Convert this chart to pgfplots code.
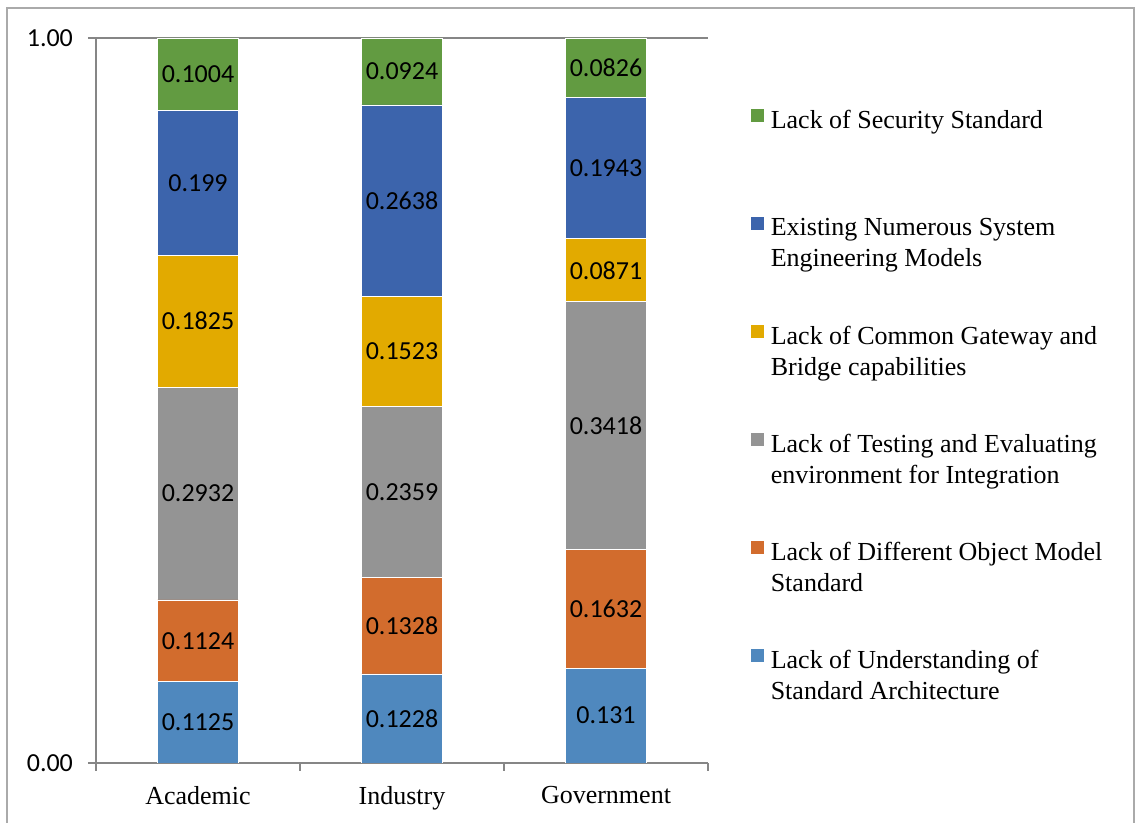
\documentclass[border=0pt]{standalone}
\usepackage{pgfplots}
\pgfplotsset{compat=1.18}
\usepackage{pgfplotstable}
\usepackage{fontspec}
\setmainfont{Liberation Serif}
\newfontfamily\calibri{Carlito}

\definecolor{cUnd}{RGB}{79,136,190}
\definecolor{cObj}{RGB}{210,108,45}
\definecolor{cTest}{RGB}{148,148,148}
\definecolor{cGate}{RGB}{226,170,0}
\definecolor{cSys}{RGB}{60,100,172}
\definecolor{cSec}{RGB}{98,155,65}
\definecolor{axgray}{RGB}{134,134,134}
\definecolor{framegray}{RGB}{170,170,170}

% shares per group (bottom to top)
\pgfplotstableread{
x und obj test gate sys sec
0 0.1125 0.1124 0.2932 0.1825 0.199  0.1004
1 0.1228 0.1328 0.2359 0.1523 0.2638 0.0924
2 0.131  0.1632 0.3418 0.0871 0.1943 0.0826
}\shares

% label positions: middle of each segment
\pgfplotstableread{
x y lab
0 0.05625 0.1125
0 0.1687  0.1124
0 0.3715  0.2932
0 0.60935 0.1825
0 0.8001  0.199
0 0.9498  0.1004
1 0.0614  0.1228
1 0.1892  0.1328
1 0.37355 0.2359
1 0.56765 0.1523
1 0.7757  0.2638
1 0.9538  0.0924
2 0.0655  0.131
2 0.2126  0.1632
2 0.4651  0.3418
2 0.67955 0.0871
2 0.82025 0.1943
2 0.9587  0.0826
}\labels

\pgfplotsset{
  sq/.style={fill=#1, draw=white, line width=0.4pt,
    legend image code/.code={%
      \path (0pt,-40.6pt) -- (0pt,13pt);
      \fill[##1, draw=none] (0pt,1pt) rectangle (6.5pt,7.5pt);}},
  frame/.style={at={(0pt,0pt)}, anchor=south west, scale only axis,
    width=306pt, height=362.5pt, xmin=-0.5, xmax=2.5, ymin=0, ymax=1},
}
\newcommand{\entry}[1]{\raisebox{3.5pt}{\parbox[t]{190pt}{#1}}}

\begin{document}
\begin{tikzpicture}
\path[use as bounding box] (-48pt,-30pt) rectangle (520pt,381.5pt);
\draw[framegray, line width=1pt] (-44.5pt,-32pt) -- (-44.5pt,377.5pt) -- (519pt,377.5pt) -- (519pt,-32pt);

\begin{axis}[frame,
  ybar stacked, bar width=40.5pt,
  axis x line*=bottom, axis y line*=left,
  axis line style={axgray, line width=0.8pt},
  xtick={0,1,2}, xticklabels={Academic,Industry,Government},
  minor xtick={-0.5,0.5,1.5,2.5},
  major x tick style={draw=none},
  minor x tick style={axgray, line width=0.8pt},
  minor tick length=4pt,
  ytick={0,1},
  y tick style={axgray, line width=0.8pt},
  major tick length=4pt,
  tick align=outside,
  ymajorgrids, major grid style={axgray, line width=0.8pt},
  /pgf/number format/assume math mode=true,
  yticklabel style={font=\calibri\fontsize{13}{15}\selectfont, xshift=-4pt,
    /pgf/number format/.cd, fixed, fixed zerofill, precision=2, /tikz/.cd},
  xticklabel style={font=\fontsize{13}{15}\selectfont, yshift=-4pt},
  reverse legend,
  legend cell align=left,
  legend style={draw=none, fill=none, inner sep=0pt, at={(1.0686,0.9179)}, anchor=north west,
    nodes={inner sep=0pt}, column sep=3.5pt, row sep=0pt,
    font=\fontsize{13}{15.5}\selectfont},
]
\addplot[sq=cUnd]  table[x=x, y=und]  {\shares};
\addlegendentry{\entry{Lack of Understanding of\\Standard Architecture}}
\addplot[sq=cObj]  table[x=x, y=obj]  {\shares};
\addlegendentry{\entry{Lack of Different Object Model\\Standard}}
\addplot[sq=cTest] table[x=x, y=test] {\shares};
\addlegendentry{\entry{Lack of Testing and Evaluating\\environment for Integration}}
\addplot[sq=cGate] table[x=x, y=gate] {\shares};
\addlegendentry{\entry{Lack of Common Gateway and\\Bridge capabilities}}
\addplot[sq=cSys]  table[x=x, y=sys]  {\shares};
\addlegendentry{\entry{Existing Numerous System\\Engineering Models}}
\addplot[sq=cSec]  table[x=x, y=sec]  {\shares};
\addlegendentry{\entry{Lack of Security Standard}}
\end{axis}

\begin{axis}[frame, hide axis]
\addplot[draw=none, mark=none, nodes near coords={\pgfplotspointmeta},
  point meta=explicit symbolic,
  every node near coord/.append style={anchor=center, text=black,
    font=\calibri\fontsize{13}{15}\selectfont}]
  table[x=x, y=y, meta=lab] {\labels};
\end{axis}
\end{tikzpicture}
\end{document}
